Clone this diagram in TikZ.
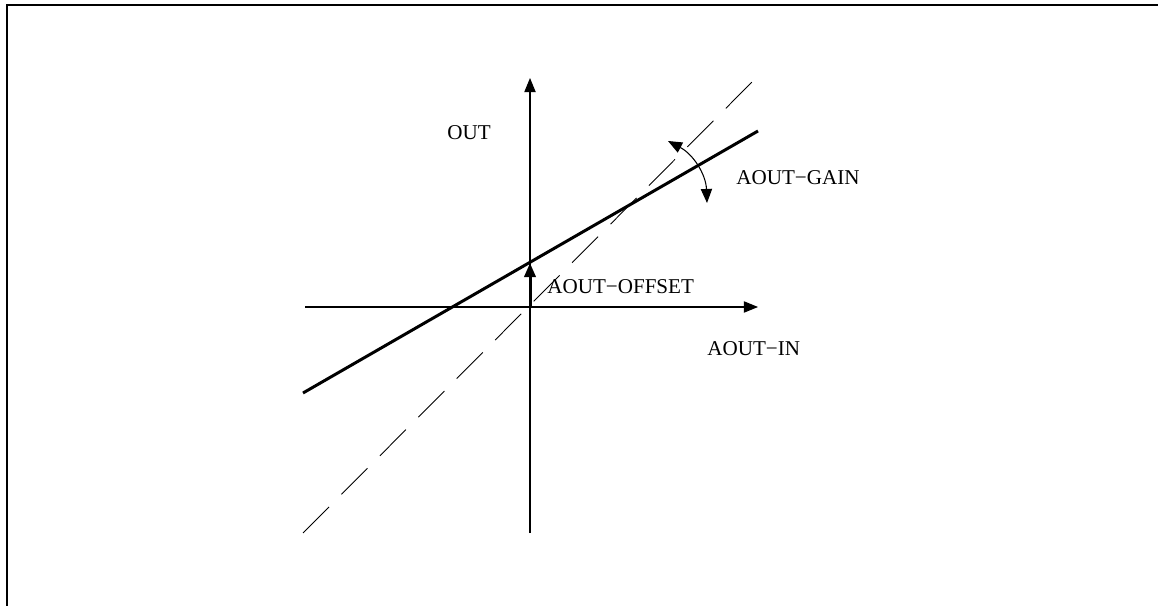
\documentclass[tikz,border=0pt]{standalone}
\usepackage{fontspec}
\setmainfont{Liberation Serif}
\usetikzlibrary{arrows.meta}

\begin{document}
\begin{tikzpicture}[x=0.2mm, y=-0.2mm, font=\fontsize{12}{14}\selectfont,
  tip/.style={-{Triangle[length=8pt,width=6.4pt]}},
  label/.style={inner sep=0pt, anchor=west}]
\useasboundingbox (0,0) rectangle (1158,606);
% Frame (only top and left edge visible)
\draw[line width=1.1pt] (7,606) -- (7,5) -- (1158,5);

% Axes
\coordinate (o) at (530,307);
\draw[tip, line width=0.6pt] (305,307) -- (758,307) coordinate (xend);
\draw[tip, line width=0.6pt] (530,533) -- (530,78) coordinate (yend);
\node[label] (out) at (447,133) {OUT};
\node[label] (in) at (707,349) {AOUT−IN};

% Dashed line: gain 1, no offset
\draw[line width=0.5pt, dash pattern=on 21pt off 10pt] (303,533) -- (757,77);

% Transfer line
\draw[line width=1.7pt] (303,393) -- (758,131);

% Offset
\draw[tip, line width=1.7pt] (o) -- (530,263) coordinate (cross);
\node[label] (offset) at (547,287) {AOUT−OFFSET};

% Gain
\draw[{Triangle[length=8pt,width=6.4pt]}-{Triangle[length=8pt,width=6.4pt]}, line width=0.6pt]
  (668,141) coordinate (gtop) to[bend left=30] (707,203) coordinate (gbot);
\node[label] (gain) at (736,178) {AOUT−GAIN};
\end{tikzpicture}
\end{document}
